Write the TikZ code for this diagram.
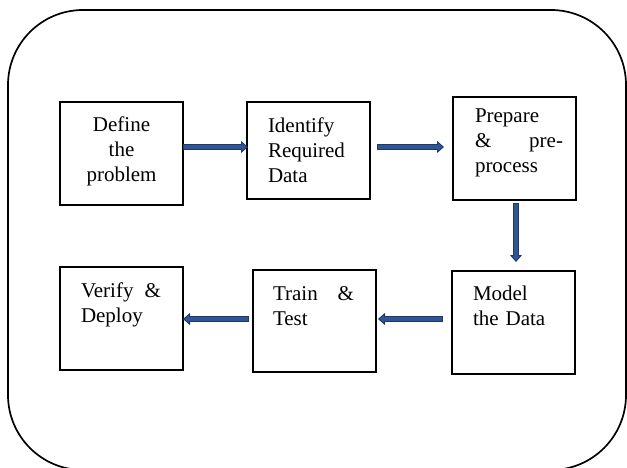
\documentclass[tikz,border=0pt]{standalone}
\usepackage{fontspec}
\setmainfont{Liberation Serif}
\usetikzlibrary{arrows.meta}

\definecolor{arrowdark}{RGB}{31,56,100}
\definecolor{arrowfill}{RGB}{47,85,151}

\tikzset{
  stepbox/.style={draw=black, line width=1.4pt, inner sep=0pt, outer sep=0pt},
  label/.style={inner sep=0pt, outer sep=0pt, anchor=base west, align=left,
    font=\fontsize{21}{25}\selectfont},
  flow/.style={draw=arrowdark, line width=6pt,
    -{Triangle[width=12pt, length=7pt, line width=0.9pt, fill=arrowfill]},
    postaction={draw=arrowfill, line width=3.6pt, -, shorten >=5pt, shorten <=1pt}},
}

\begin{document}
\begin{tikzpicture}[x=1pt, y=-1pt]
  \useasboundingbox (0,0) rectangle (627,468);
  \clip (0,0) rectangle (627,468);

  % outer frame
  \draw[line width=1.7pt, rounded corners=75pt] (8,10) rectangle (626,470);

  % process steps
  \node[stepbox, minimum width=123pt, minimum height=103pt] (b1) at (121.5,153.5) {};
  \node[stepbox, minimum width=123pt, minimum height=97pt]  (b2) at (308.5,150.5) {};
  \node[stepbox, minimum width=123pt, minimum height=103pt] (b3) at (514.5,148.5) {};
  \node[stepbox, minimum width=123pt, minimum height=103pt] (b4) at (513.5,322.5) {};
  \node[stepbox, minimum width=123pt, minimum height=102pt] (b5) at (314.5,321) {};
  \node[stepbox, minimum width=123pt, minimum height=103pt] (b6) at (121.5,318.5) {};

  % step labels (baseline of the first line at the given point)
  \node[label, anchor=base, align=center, text width=100pt] (t1) at (121.5,132) {Define\\the\\problem};
  \node[label, text width=90pt] (t2) at (268,133) {Identify\\Required\\Data};
  \node[label, text width=88pt] (t3) at (475,123) {Prepare\\\& \hfill pre-\\process};
  \node[label, text width=90pt] (t4) at (473,300) {Model\\the Data};
  \node[label, text width=81pt] (t5) at (273,300) {Train \hfill \&\\Test};
  \node[label, text width=80pt] (t6) at (81,297) {Verify \hfill \&\\Deploy};

  % arrow rows
  \coordinate (r1) at (0,147);
  \coordinate (r2) at (0,319);

  \draw[flow] (b1.east |- r1) -- ([xshift=1pt]b2.west |- r1);
  \draw[flow] ([xshift=7pt]b2.east |- r1) -- ([xshift=-9pt]b3.west |- r1);
  \draw[flow] ([xshift=1.5pt, yshift=-3pt]b3.south) -- ([xshift=1.5pt, yshift=9pt]b3.south |- b4.north);
  \draw[flow] ([xshift=-9pt]b4.west |- r2) -- ([xshift=2pt]b5.east |- r2);
  \draw[flow] ([xshift=-4pt]b5.west |- r2) -- (b6.east |- r2);
\end{tikzpicture}
\end{document}
